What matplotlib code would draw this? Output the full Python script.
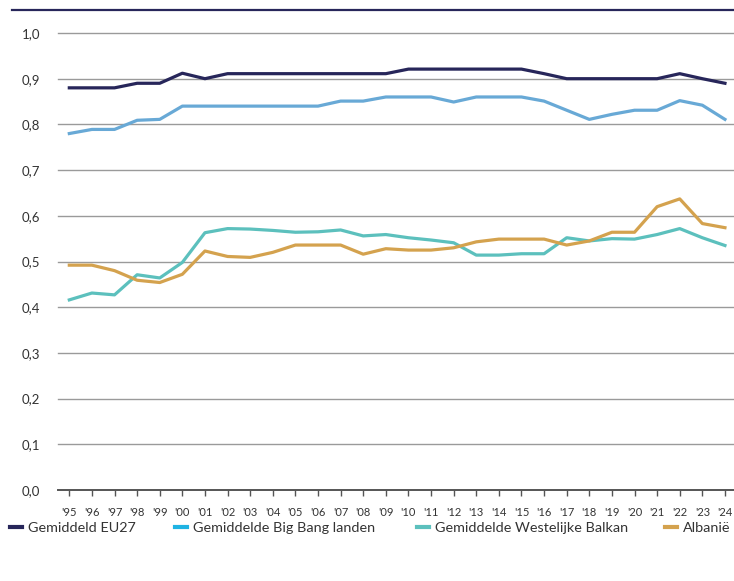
import numpy as np
import matplotlib
matplotlib.use('Agg')
import matplotlib.pyplot as plt
from matplotlib.lines import Line2D

# Data
years = ["'95", "'96", "'97", "'98", "'99", "'00", "'01", "'02", "'03", "'04",
         "'05", "'06", "'07", "'08", "'09", "'10", "'11", "'12", "'13", "'14",
         "'15", "'16", "'17", "'18", "'19", "'20", "'21", "'22", "'23", "'24"]

eu27 = [0.88, 0.88, 0.88, 0.89, 0.89, 0.912, 0.90, 0.911, 0.911, 0.911,
        0.911, 0.911, 0.911, 0.911, 0.911, 0.921, 0.921, 0.921, 0.921, 0.921,
        0.921, 0.911, 0.90, 0.90, 0.90, 0.90, 0.90, 0.911, 0.90, 0.89]

big_bang = [0.78, 0.789, 0.789, 0.809, 0.811, 0.84, 0.84, 0.84, 0.84, 0.84,
            0.84, 0.84, 0.851, 0.851, 0.86, 0.86, 0.86, 0.849, 0.86, 0.86,
            0.86, 0.851, 0.831, 0.811, 0.822, 0.831, 0.831, 0.852, 0.842, 0.811]

west_balkan = [0.416, 0.431, 0.427, 0.471, 0.464, 0.498, 0.563, 0.572, 0.571, 0.568,
               0.564, 0.565, 0.569, 0.556, 0.559, 0.552, 0.547, 0.541, 0.514, 0.514,
               0.517, 0.517, 0.552, 0.545, 0.55, 0.549, 0.559, 0.572, 0.552, 0.535]

albanie = [0.492, 0.492, 0.48, 0.459, 0.454, 0.472, 0.523, 0.511, 0.509, 0.52,
           0.536, 0.536, 0.536, 0.516, 0.528, 0.525, 0.525, 0.53, 0.543, 0.549,
           0.549, 0.549, 0.536, 0.545, 0.564, 0.564, 0.62, 0.637, 0.583, 0.574]

labels = ['Gemiddeld EU27', 'Gemiddelde Big Bang landen',
          'Gemiddelde Westelijke Balkan', 'Albanië']

# Colours
c_eu = '#27265a'
c_bb = '#68a9d6'
c_bb_legend = '#1fb3e3'
c_wb = '#5cc0bd'
c_al = '#d4a24e'

plt.rcParams['font.family'] = ['Lato', 'DejaVu Sans']

fig = plt.figure(figsize=(7.34, 5.81), dpi=100)
ax = fig.add_axes([58 / 734, (581 - 490) / 581, 676 / 734, 457 / 581])

x = np.arange(len(years))
lw = 2.3
ax.plot(x, eu27, color=c_eu, lw=lw, solid_joinstyle='round')
ax.plot(x, big_bang, color=c_bb, lw=lw, solid_joinstyle='round')
ax.plot(x, west_balkan, color=c_wb, lw=lw, solid_joinstyle='round')
ax.plot(x, albanie, color=c_al, lw=lw, solid_joinstyle='round')

# Axes styling
ax.set_xlim(-0.5, 29.4)
ax.set_ylim(0, 1.0)
yt = np.round(np.arange(0, 1.01, 0.1), 1)
ax.set_yticks(yt)
ax.set_yticklabels(['{:.1f}'.format(v).replace('.', ',') for v in yt])
ax.set_xticks(x)
ax.set_xticklabels(years)
for s in ['top', 'right', 'left']:
    ax.spines[s].set_visible(False)
ax.spines['bottom'].set_color('#555555')
ax.spines['bottom'].set_linewidth(1.4)
ax.spines['bottom'].set_zorder(3)
for v in yt[1:]:
    ax.axhline(v, color='#9a9a9a', lw=1.0, zorder=0, clip_on=False)
ax.tick_params(axis='y', length=0, pad=13, labelsize=9.5, labelcolor='#333333')
ax.tick_params(axis='x', length=4, width=1, color='#555555', pad=8,
               labelsize=8, labelcolor='#333333')

# Top rule
fig.add_artist(Line2D([12 / 734, 1.0], [1 - 10 / 581, 1 - 10 / 581],
                      color=c_eu, lw=1.6, transform=fig.transFigure))

# Legend, one entry per position
leg_x = [10, 175, 417, 665]
for px, c, lab in zip(leg_x, (c_eu, c_bb_legend, c_wb, c_al), labels):
    h = Line2D([], [], color=c, lw=3)
    fig.legend([h], [lab], loc='center left', bbox_to_anchor=(px / 734, 1 - 528 / 581),
               frameon=False, fontsize=10.4, handlelength=0.85, handletextpad=0.4,
               borderaxespad=0.0, borderpad=0.0, labelcolor='#333333')

plt.savefig('out.png', dpi=100)
plt.close()
